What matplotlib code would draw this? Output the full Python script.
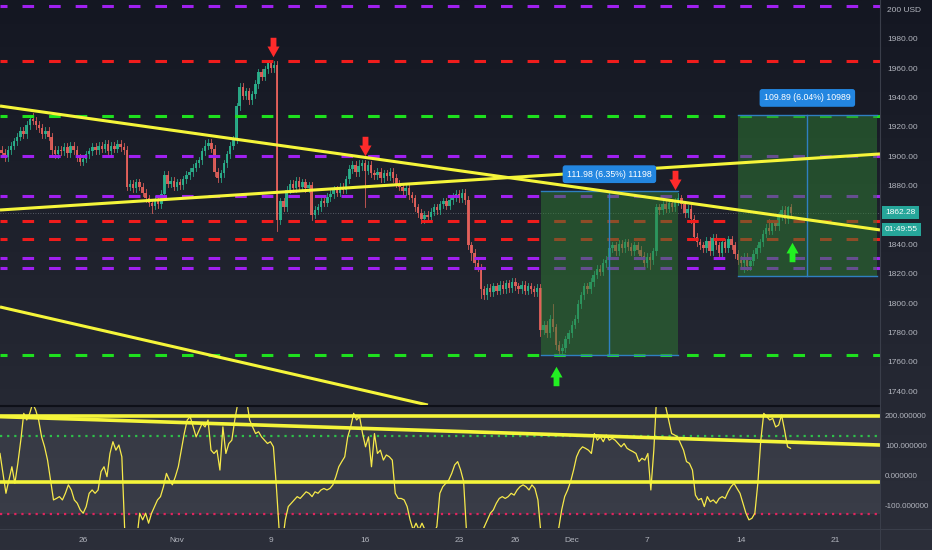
import numpy as np
import matplotlib
matplotlib.use("Agg")
import matplotlib.pyplot as plt
from matplotlib.transforms import blended_transform_factory
from matplotlib.path import Path
from matplotlib.patches import Rectangle

# ---------------- data ----------------
# 4h closes, candle i sits at day index FIRST_DAY + i/6 (day 0 = Oct 26, trading days)
FIRST_DAY = -4.333
closes = [
    1903, 1900, 1905, 1908, 1911, 1914, 1918, 1916, 1922, 1926,
    1925, 1922, 1920, 1916, 1918, 1914, 1905, 1902, 1905, 1904,
    1907, 1903, 1908, 1905, 1900, 1897, 1899, 1902, 1904, 1907,
    1905, 1908, 1906, 1909, 1904, 1908, 1906, 1909, 1907, 1905,
    1880, 1882, 1879, 1883, 1880, 1876, 1872, 1869, 1867, 1871,
    1868, 1875, 1888, 1882, 1884, 1880, 1883, 1881, 1885, 1888,
    1890, 1893, 1896, 1898, 1904, 1908, 1910, 1906, 1890, 1886,
    1889, 1896, 1902, 1908, 1912, 1935, 1948, 1942, 1945, 1939,
    1943, 1950, 1958, 1955, 1960, 1964, 1961, 1963, 1857, 1870,
    1866, 1878, 1882, 1879, 1884, 1880, 1883, 1879, 1881, 1861,
    1864, 1866, 1870, 1869, 1873, 1875, 1878, 1876, 1880, 1878,
    1885, 1892, 1895, 1890, 1894, 1896, 1891, 1895, 1889, 1888,
    1890, 1886, 1889, 1887, 1890, 1886, 1882, 1880, 1877, 1879,
    1874, 1872, 1866, 1862, 1858, 1861, 1859, 1863, 1866, 1864,
    1868, 1870, 1867, 1871, 1873, 1875, 1872, 1876, 1871, 1840,
    1835, 1828, 1825, 1810, 1806, 1811, 1808, 1812, 1809, 1813,
    1810, 1814, 1811, 1815, 1812, 1810, 1813, 1809, 1812, 1810,
    1808, 1811, 1782, 1786, 1780, 1790, 1784, 1772, 1768, 1770,
    1776, 1780, 1786, 1790, 1800, 1806, 1812, 1810, 1815, 1820,
    1824, 1822, 1828, 1830, 1838, 1840, 1836, 1841, 1838, 1842,
    1839, 1836, 1840, 1837, 1833, 1828, 1832, 1830, 1836, 1866,
    1864, 1868, 1865, 1869, 1866, 1870, 1872, 1868, 1862, 1865,
    1858, 1846, 1842, 1840, 1838, 1843, 1836, 1845, 1840, 1835,
    1842, 1838, 1844, 1840, 1834, 1830, 1828, 1832, 1826, 1829,
    1834, 1838, 1842, 1848, 1852, 1850, 1855, 1853, 1860, 1864,
    1858, 1866, 1862.28,
]
first_open = 1905
# notable wick extremes: candle index -> price
wick_highs = {10: 1930, 87: 1966, 176: 1800, 216: 1876, 251: 1867, 114: 1898,
              52: 1891, 75: 1937, 209: 1868, 65: 1912, 245: 1858}
wick_lows = {88: 1850, 99: 1857, 178: 1765, 134: 1855, 237: 1822, 153: 1804,
             48: 1862, 172: 1778, 116: 1866, 207: 1824, 150: 1830}

# CCI-style oscillator, evenly sampled over the candle span
cci = [
    76, 10, -56, -12, 32, -23, 43, 120, 209, 187, 209, 242, 220, 187, 131, 98, 54, -12,
    -78, -73, -67, -78, -56, -28, -45, -78, -89, -111, -122, -100, -56, -45, -56, -45,
    16, 32, -1, 76, 115, 87, 104, 65, -188, -232, -232, -232, -210, -122, -144, -122,
    -155, -122, -100, -78, -67, -34, 10, -12, -28, -1, 32, 87, 142, 187, 198, 164, 131,
    153, 175, 164, 187, 87, 76, 87, 21, 164, 76, 109, 120, 187, 242, 275, 275, 253, 187,
    164, 142, 148, 131, 120, 109, 115, 98, -34, -188, -221, -144, -100, -89, -78, -67,
    -73, -62, -51, -56, -67, -51, -56, -45, -40, -45, -40, -28, -1, 32, 49, 65, 131, 164,
    209, 187, 198, 142, 98, 131, 32, 142, 76, 87, 54, 71, 65, 54, -56, -73, -73, -78,
    -100, -144, -177, -155, -177, -155, -177, -188, -177, -188, -166, -56, -34, -23,
    -12, 10, 38, 49, 21, -17, -188, -232, -232, -232, -221, -188, -166, -144, -122,
    -111, -89, -73, -67, -73, -67, -56, -62, -45, -34, -28, -34, -45, -28, -40, -78,
    -188, -232, -232, -232, -221, -199, -172, -111, -67, -45, -17, 21, 65, 87, 98, 93,
    87, 76, 142, 120, 131, 115, 137, 120, 126, 120, 109, 98, 109, 93, 87, 82, 76, 49,
    60, 54, 76, -45, 87, 275, 275, 264, 231, 187, 142, 137, 131, 109, 87, 49, 43, 21,
    -62, -78, -73, -100, -67, -84, -78, -89, -73, -67, -73, -51, -34, -23, -40, -56,
    -89, -122, -144, -139, -122, -23, 120, 209, 198, 187, 192, 164, 170, 203, 153, 98, 93,
]
CCI_FIRST_DAY, CCI_LAST_DAY = -4.415, 37.64

# horizontal levels (price) and their colours
levels = [2003.5, 1966, 1928, 1901, 1873.5, 1856.5, 1844, 1831.5, 1824.5, 1765]
level_kinds = ["purple", "red", "green", "purple", "purple", "red", "red", "purple", "purple", "green"]

# trend lines (day, price)
trend_lines = [
    ((-4.415, 1935.0), (42.40, 1850.5)),
    ((-4.415, 1864.1), (42.40, 1902.3)),
    ((-4.415, 1798.0), (18.35, 1731.1)),
]
# oscillator lines
osc_hlines = [200, -20]
osc_trend = ((-4.415, 198), (42.40, 104))
osc_green_dot = 134
osc_red_dot = -125

# measurement boxes: (day0, day1, price0, price1, label)
measures = [
    (24.36, 31.65, 1765, 1877, "111.98 (6.35%) 11198"),
    (34.84, 42.23, 1819, 1929, "109.89 (6.04%) 10989"),
]
# arrows: (day, price centre, direction)
arrows = [
    (10.1, 1975.2, "down"), (15.0, 1907.7, "down"), (31.5, 1884.5, "down"),
    (25.16, 1750.9, "up"), (37.7, 1835.5, "up"),
]
price_ticks = [1740, 1760, 1780, 1800, 1820, 1840, 1880, 1900, 1920, 1940, 1960, 1980]
osc_ticks = [200, 100, 0, -100]
osc_tick_labels = ["200.000000", "100.000000", "0.000000", "-100.000000"]
time_ticks = [0, 5, 10, 15, 20, 23, 26, 30, 35, 40]
time_labels = ["26", "Nov", "9", "16", "23", "26", "Dec", "7", "14", "21"]
last_price = 1862.28
countdown = "01:49:55"

# ---------------- style ----------------
COL = {"purple": "#a020f0", "red": "#f01c1c", "green": "#1ee01e"}
YEL = "#f5f53a"
TXT = "#b2b5be"
UP, DN = "#2bb58f", "#e8625c"
W, H = 932, 550
XL = (-4.415, 42.40)

plt.rcParams["font.family"] = ["Liberation Sans", "DejaVu Sans"]
fig = plt.figure(figsize=(W / 100, H / 100), dpi=100)

# background gradient
bg = fig.add_axes([0, 0, 1, 1], zorder=-10)
grad = np.linspace(0, 1, 256)[:, None]
c0 = np.array([0x14, 0x17, 0x22]) / 255
c1 = np.array([0x2c, 0x2f, 0x3a]) / 255
img = c0[None, None, :] * (1 - grad[:, :, None]) + c1[None, None, :] * grad[:, :, None]
bg.imshow(img, aspect="auto", extent=[0, 1, 0, 1], origin="upper")
bg.axis("off")

def px_axes(x0, y0, x1, y1, z=0):
    return fig.add_axes([x0 / W, 1 - y1 / H, (x1 - x0) / W, (y1 - y0) / H], zorder=z)

ax = px_axes(0, 0, 880, 405)
ox = px_axes(0, 407, 880, 528)
for a in (ax, ox):
    a.set_facecolor("none")
    a.set_xlim(*XL)
    for s in a.spines.values():
        s.set_visible(False)
    a.set_xticks([])
    a.set_yticks([])
ax.set_ylim(1731.14, 2007.27)
ox.set_ylim(-171, 230)

# separators
fig.add_artist(plt.Line2D([0, 880 / W], [1 - 406 / H] * 2, color="#0e1018", lw=1.5))
fig.add_artist(plt.Line2D([880 / W] * 2, [0, 1], color="#3a3e4a", lw=0.8))
fig.add_artist(plt.Line2D([0, 1], [1 - 528.5 / H] * 2, color="#3a3e4a", lw=0.8))

# oscillator band fill
ox.axhspan(osc_red_dot, 200, color="#5a5d68", alpha=0.32, lw=0)

# horizontal dashed levels
for lv, k in zip(levels, level_kinds):
    ax.axhline(lv, color=COL[k], lw=2.2, ls=(1.5, (3.8, 4.9)), zorder=5)

# last price line
ax.axhline(last_price, color="#6b6f7a", lw=0.6, ls=(0, (1, 2)), zorder=1)

# measurement boxes (drawn over candles and levels, like the reference)
for d0, d1, p0, p1, lab in measures:
    ax.add_patch(Rectangle((d0, p0), d1 - d0, p1 - p0, facecolor="#2e7d32", alpha=0.5,
                           edgecolor="none", zorder=6))
    ax.plot([d0, d1], [p0, p0], color="#2f7fc1", lw=1.0, zorder=6.5)
    ax.plot([d0, d1], [p1, p1], color="#2f7fc1", lw=1.0, zorder=6.5)
    dm = (d0 + d1) / 2
    ax.plot([dm, dm], [p0, p1], color="#2f7fc1", lw=1.0, zorder=6.5)
    ax.text(dm, p1 + 11.5, lab, ha="center", va="center", fontsize=6.3, color="white",
            zorder=9, bbox=dict(boxstyle="round,pad=0.5,rounding_size=0.3", fc="#2386e0", ec="none"))

# candles
opens = [first_open] + closes[:-1]
n = len(closes)
xs = FIRST_DAY + np.arange(n) / 6
for i in range(n):
    o, c = opens[i], closes[i]
    hi = wick_highs.get(i, max(o, c) + 2.5)
    lo = wick_lows.get(i, min(o, c) - 2.5)
    col = UP if c >= o else DN
    ax.plot([xs[i], xs[i]], [lo, hi], color=col, lw=0.6, zorder=4, alpha=0.9)
    body = max(abs(c - o), 0.6)
    ax.add_patch(Rectangle((xs[i] - 0.065, min(o, c)), 0.13, body, facecolor=col,
                           edgecolor="none", zorder=4.5, alpha=0.9))

# trend lines
for (d0, p0), (d1, p1) in trend_lines:
    ax.plot([d0, d1], [p0, p1], color=YEL, lw=2.2, zorder=7, solid_capstyle="butt")

# arrows
arrow_down = Path([(-0.3, 1), (0.3, 1), (0.3, 0.1), (0.62, 0.1), (0, -1), (-0.62, 0.1),
                   (-0.3, 0.1), (-0.3, 1)], closed=True)
arrow_up = Path([(x, -y) for x, y in arrow_down.vertices], closed=True)
for d, p, kind in arrows:
    if kind == "down":
        ax.plot(d, p, marker=arrow_down, ms=14, color="#ff2b2b", mec="none", zorder=8)
    else:
        ax.plot(d, p, marker=arrow_up, ms=14, color="#22f022", mec="none", zorder=8)

# oscillator
cx = np.linspace(CCI_FIRST_DAY, CCI_LAST_DAY, len(cci))
ox.plot(cx, cci, color="#f7ea4a", lw=0.9, zorder=5)
for v in osc_hlines:
    ox.axhline(v, color=YEL, lw=2.6, zorder=6)
ox.plot([osc_trend[0][0], osc_trend[1][0]], [osc_trend[0][1], osc_trend[1][1]], color=YEL, lw=2.6, zorder=6)
ox.axhline(osc_green_dot, color="#2ec04a", lw=1.6, ls=(0, (1, 2.2)), zorder=4)
ox.axhline(osc_red_dot, color="#e0245e", lw=1.6, ls=(0, (1, 2.2)), zorder=4)

# price axis labels
tp = blended_transform_factory(fig.transFigure, ax.transData)
for t in price_ticks:
    ax.text(887 / W, t, f"{t:.2f}", transform=tp, ha="left", va="center", fontsize=6, color=TXT, clip_on=False)
ax.text(887 / W, 2000, "200 USD", transform=tp, ha="left", va="center", fontsize=6, color=TXT, clip_on=False)
# last price label
ax.text(885 / W, last_price, f"{last_price:.2f}", transform=tp, ha="left", va="center", fontsize=6,
        color="white", clip_on=False, zorder=10,
        bbox=dict(boxstyle="square,pad=0.4", fc="#26a69a", ec="none"))
ax.text(885 / W, last_price - 11.5, countdown, transform=tp, ha="left", va="center", fontsize=6,
        color="white", clip_on=False, zorder=10,
        bbox=dict(boxstyle="square,pad=0.4", fc="#26a69a", ec="none"))

to = blended_transform_factory(fig.transFigure, ox.transData)
for t, lab in zip(osc_ticks, osc_tick_labels):
    ox.text(885 / W, t, lab, transform=to, ha="left", va="center", fontsize=5.8, color=TXT, clip_on=False)

tt = blended_transform_factory(ox.transData, fig.transFigure)
for t, lab in zip(time_ticks, time_labels):
    ox.text(t, 1 - 540 / H, lab, transform=tt, ha="center", va="center", fontsize=6, color=TXT, clip_on=False)

fig.savefig("out.png", dpi=100, facecolor="#131722")
